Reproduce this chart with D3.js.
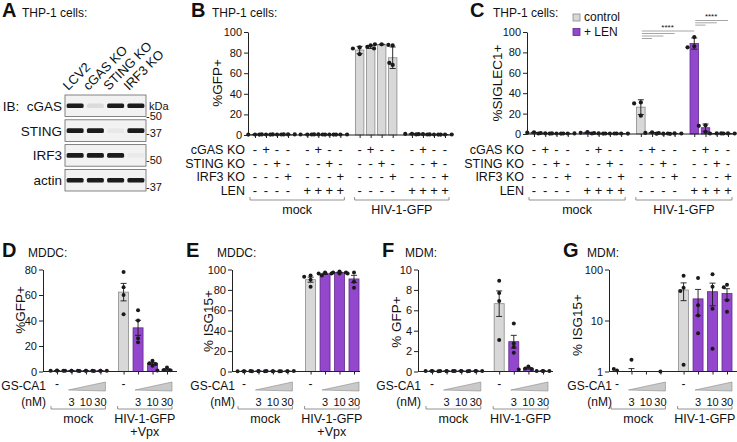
<!DOCTYPE html>
<html><head><meta charset="utf-8">
<script src="https://cdn.jsdelivr.net/npm/d3@7"></script>
<style>
body{margin:0;background:#fff}
svg{display:block}
text{font-family:"Liberation Sans",Arial,Helvetica,sans-serif;fill:#111}
</style>
</head><body>
<svg id="fig" width="737" height="442"></svg>
<script>
// ================= DATA =================
const blotLanes = ["LCV2", "cGAS KO", "STING KO", "IRF3 KO"];
const blotRows = ["IB:\u00A0\u00A0cGAS", "STING", "IRF3", "actin"];
const blotBandIntensity = [
  [1, 0.1, 1, 1],
  [1, 1, 0.04, 1],
  [1, 1, 1, 0.03],
  [1, 1, 1, 1]
];
const blotMarkers = ["-50", "-37", "-50", "-37"];

const thpGenotypes = ["LCV2", "cGAS KO", "STING KO", "IRF3 KO"];
const thpRowLabels = ["cGAS KO", "STING KO", "IRF3 KO", "LEN"];
const thpLen = [false, true, false, true];
const thpInfections = ["mock", "HIV-1-GFP"];
const legendLabels = ["control", "+ LEN"];
const ticks100 = [0, 20, 40, 60, 80, 100];

// %GFP+ (panel B), 3 replicates per bar
const gfpB = [
  [0.5, 0.4, 0.6], [0.5, 0.4, 0.6], [0.5, 0.4, 0.6], [0.6, 0.5, 0.6],
  [0.4, 0.5, 0.6], [0.6, 0.5, 0.4], [0.5, 0.5, 0.4], [0.5, 0.4, 0.5],
  [85, 84, 78.5], [87, 85.5, 84], [88, 88, 87.5], [87, 68, 70],
  [1.2, 1.0, 0.9], [0.8, 0.6, 0.6], [0.5, 0.5, 0.4], [0.5, 0.4, 0.5]
];
// %SIGLEC1+ (panel C)
const siglecC = [
  [1.6, 1.3, 1.0], [0.7, 0.5, 0.6], [0.5, 0.4, 0.5], [0.5, 0.4, 0.6],
  [1.8, 1.2, 1.0], [0.6, 0.5, 0.5], [0.5, 0.4, 0.5], [0.5, 0.5, 0.4],
  [31, 30, 18], [1.6, 1.1, 1.0], [0.3, 0.3, 0.2], [0.6, 0.5, 0.5],
  [95, 86, 85], [8.5, 8, 2], [0.6, 0.5, 0.5], [0.6, 0.6, 0.5]
];
const sigLeft = [[8, 12], [8, 11], [8, 10], [8, 9]];
const sigRight = [[12, 15], [12, 14], [12, 13]];
const sigLabel = "****";

const gscaLabel = ["GS-CA1", "(nM)"];
const gscaDoses = ["-", "3", "10", "30"];
const mddcInfections = ["mock", "HIV-1-GFP\n+Vpx"];
const mdmInfections = ["mock", "HIV-1-GFP"];

// D: MDDC %GFP+ (4 donors)
const gfpD = [
  [0.6, 0.5, 0.5, 0.7], [0.5, 0.6, 0.5, 0.6], [0.5, 0.4, 0.5, 0.6], [0.5, 0.4, 0.5, 0.5],
  [78, 66, 60, 45], [48, 40, 26, 23], [8.4, 6.5, 5.8, 4.6], [3.2, 1.2, 1.0, 0.8]
];
// E: MDDC %ISG15+
const isgE = [
  [0.3, 0.2, 0.4, 0.3], [0.3, 0.2, 0.3, 0.4], [0.3, 0.4, 0.2, 0.3], [0.3, 0.2, 0.4, 0.3],
  [94, 93, 90, 83], [97, 96, 96, 94], [98, 97, 97, 96], [97, 96, 88, 82]
];
// F: MDM %GFP+
const gfpF = [
  [0.05, 0.05, 0.03, 0.04], [0.05, 0.04, 0.05, 0.03], [0.04, 0.05, 0.03, 0.05], [0.05, 0.04, 0.04, 0.05],
  [8.9, 7.7, 6.9, 3.1], [4.7, 2.75, 2.4, 1.85], [0.5, 0.3, 0.25, 0.2], [0.06, 0.05, 0.04, 0.05]
];
// G: MDM %ISG15+ (log scale)
const isgG = [
  [1.05, 1.12, 0.6, 0.5], [1.7, 0.7, 0.6, 0.4], [0.5, 0.4, 0.3, 0.6], [1.0, 0.5, 0.4, 0.3],
  [75, 44, 38, 1.35], [68, 20, 12.6, 5.6], [81, 46, 17, 2.8], [50, 45, 25, 14.8]
];

// ================= DRAWING =================
const svg = d3.select("#fig");
const COL = {
  gray: "#d8d8d8", grayS: "#8a8a8a",
  purple: "#9347cc", purpleS: "#5f2b8c",
  ink: "#1a1a1a", sig: "#9c9c9c"
};
const defs = svg.append("defs");
defs.append("filter").attr("id", "blur").attr("x", "-20%").attr("y", "-50%").attr("width", "140%").attr("height", "200%")
  .append("feGaussianBlur").attr("stdDeviation", 0.6);

function txt(g, x, y, s, size, anchor, weight) {
  const t = g.append("text").attr("x", x).attr("y", y).text(s).style("font-size", size + "px");
  if (anchor) t.attr("text-anchor", anchor);
  if (weight) t.style("font-weight", weight);
  return t;
}
function head(letter, lx, title, tx, base) {
  txt(svg, lx, base, letter, 20, null, "bold");
  txt(svg, tx, base, title, 12);
}
function slotScale(n, gap, x0, x1) {
  const u = i => i + Math.floor(i / 4) * gap;
  const lin = d3.scaleLinear().domain([0, u(n - 1)]).range([x0, x1]);
  return d3.scaleOrdinal().domain(d3.range(n)).range(d3.range(n).map(i => lin(u(i))));
}
function dodge(py, r) {
  const placed = [];
  return py.map(v => {
    for (const k of [0, -1, 1, -2, 2, -3, 3]) {
      const dx = k * r * 1.6;
      if (placed.every(p => Math.hypot(p[0] - dx, p[1] - v) >= r * 1.7)) { placed.push([dx, v]); return dx; }
    }
    return 0;
  });
}
function drawBars(g, series, x, y, o) {
  const floor = o.floor, yBase = y(floor), r = o.r || 2;
  series.forEach((pts, i) => {
    const m = d3.mean(pts);
    if (m > floor) {
      const c = o.color(i);
      g.append("rect").attr("x", x(i) - o.barW / 2).attr("width", o.barW)
        .attr("y", y(m)).attr("height", yBase - y(m))
        .attr("fill", c[0]).attr("stroke", c[1]).attr("stroke-width", 0.8);
    }
  });
  series.forEach((pts, i) => {
    const m = d3.mean(pts);
    const sd = d3.deviation(pts) || 0;
    const e = o.err === "SEM" ? sd / Math.sqrt(pts.length) : sd;
    const hi = m + e, lo = Math.max(m - e, floor);
    if (hi <= floor) return;
    const cx = x(i);
    g.append("line").attr("x1", cx).attr("x2", cx).attr("y1", y(lo)).attr("y2", y(hi))
      .attr("stroke", COL.ink).attr("stroke-width", 0.9);
    g.append("line").attr("x1", cx - 3).attr("x2", cx + 3).attr("y1", y(hi)).attr("y2", y(hi))
      .attr("stroke", COL.ink).attr("stroke-width", 0.9);
    if (m - e > floor)
      g.append("line").attr("x1", cx - 3).attr("x2", cx + 3).attr("y1", y(m - e)).attr("y2", y(m - e))
        .attr("stroke", COL.ink).attr("stroke-width", 0.9);
  });
  series.forEach((pts, i) => {
    const vis = pts.filter(v => v >= floor);
    const py = vis.map(v => y(v));
    const off = dodge(py, r);
    py.forEach((v, k) => g.append("circle").attr("cx", x(i) + off[k]).attr("cy", v).attr("r", r).attr("fill", COL.ink));
  });
}
function yAxis(x0, y, ticks, size, fmt) {
  const ax = d3.axisLeft(y).tickValues(ticks).tickSize(4).tickPadding(2).tickSizeOuter(0);
  if (fmt) ax.tickFormat(fmt);
  const a = svg.append("g").attr("transform", `translate(${x0},0)`).call(ax);
  a.selectAll("text").style("font-size", size + "px");
  a.selectAll("line,path").attr("stroke", "#222");
}
function xAxis(x, y0, x0, x1) {
  const a = svg.append("g").attr("transform", `translate(0,${y0})`)
    .call(d3.axisBottom(x).tickSize(3).tickFormat("").tickSizeOuter(0));
  a.select(".domain").remove();
  a.selectAll("line").attr("stroke", "#222");
  svg.append("line").attr("x1", x0).attr("x2", x1).attr("y1", y0).attr("y2", y0).attr("stroke", "#222");
}
function yLabel(x, cy, s, size) {
  svg.append("text").attr("transform", `translate(${x},${cy}) rotate(-90)`)
    .attr("text-anchor", "middle").style("font-size", size + "px").text(s);
}
function bracket(xa, xb, yb, labelLines, base, size) {
  svg.append("path").attr("d", `M${xa},${yb - 3}V${yb}H${xb}V${yb - 3}`)
    .attr("fill", "none").attr("stroke", "#777").attr("stroke-width", 0.8);
  labelLines.forEach((l, k) => txt(svg, (xa + xb) / 2, base + k * 13, l, size, "middle"));
}

// ---------- Panel A : immunoblot ----------
head("A", 2, "THP-1 cells:", 22, 17);
const laneX = d3.scaleBand().domain(blotLanes).range([65, 146]).paddingInner(0.1).paddingOuter(0.05);
const rowY = d3.scaleBand().domain(blotRows).range([95, 191]).paddingInner(0.13);
const markerFrac = [1.18, 0.8, 0.9, 1.0];
blotRows.forEach((r, ri) => {
  const y0 = rowY(r), h = rowY.bandwidth();
  svg.append("rect").attr("x", 65).attr("y", y0).attr("width", 81).attr("height", h)
    .attr("fill", "#f2f2f2").attr("stroke", "#666").attr("stroke-width", 0.8);
  blotLanes.forEach((l, li) => {
    const cx = laneX(l) + laneX.bandwidth() / 2;
    svg.append("rect").attr("x", cx - 8.5).attr("y", y0 + h / 2 - 2.3).attr("width", 17).attr("height", 4.6)
      .attr("rx", 1.5).attr("fill", "#1c1c1c").attr("opacity", blotBandIntensity[ri][li])
      .attr("filter", "url(#blur)");
  });
  txt(svg, 62, y0 + h / 2 + 5, r, 13.5, "end");
  txt(svg, 146, y0 + h * markerFrac[ri], blotMarkers[ri], 11);
});
txt(svg, 149, 110, "kDa", 11);
blotLanes.forEach(l => {
  const cx = laneX(l) + laneX.bandwidth() / 2;
  svg.append("text").attr("transform", `translate(${cx - 7},91) rotate(-45)`).style("font-size", "13px").text(l);
});

// ---------- Panels B & C ----------
function thpPanel(cfg) {
  const x = slotScale(16, 0.75, cfg.xFirst, cfg.xLast);
  const y = d3.scaleLinear().domain([0, 100]).range([cfg.y0, 32]);
  const g = svg.append("g");
  drawBars(g, cfg.data, x, y, { floor: 0, barW: 8.5, err: "SD", color: cfg.color, r: 2.1 });
  yAxis(cfg.axisX, y, ticks100, 11);
  xAxis(x, cfg.y0, cfg.axisX, cfg.axisEnd);
  yLabel(cfg.labX, 83, cfg.ylab, 13.5);
  const rowBase = [154, 167.5, 181, 194.5];
  thpRowLabels.forEach((lab, r) => {
    txt(svg, cfg.rowX, rowBase[r], lab, 12.5, "end");
    d3.range(16).forEach(i => {
      const gi = Math.floor(i / 4), ge = i % 4;
      const on = r < 3 ? (ge === r + 1) : thpLen[gi];
      txt(svg, x(i), rowBase[r], on ? "+" : "-", 13, "middle");
    });
  });
  thpInfections.forEach((lab, k) => {
    bracket(x(k * 8) - 5, x(k * 8 + 7) + 4, 200, [lab], 214, 12.5);
  });
  return x;
}
head("B", 191, "THP-1 cells:", 212, 17);
thpPanel({ data: gfpB, xFirst: 255, xLast: 445, axisX: 248, axisEnd: 452, y0: 135, labX: 222,
  ylab: "%GFP+", rowX: 245, color: () => [COL.gray, COL.grayS] });

head("C", 470, "THP-1 cells:", 493, 17);
const xC = thpPanel({ data: siglecC, xFirst: 534, xLast: 728, axisX: 527, axisEnd: 735, y0: 134, labX: 502,
  ylab: "%SIGLEC1+", rowX: 524,
  color: i => thpLen[Math.floor(i / 4)] ? [COL.purple, COL.purpleS] : [COL.gray, COL.grayS] });
// significance lines
function sigLines(pairs, yTop, step) {
  pairs.forEach((p, k) => {
    const yy = yTop + k * step;
    svg.append("line").attr("x1", xC(p[0]) + 1).attr("x2", xC(p[1])).attr("y1", yy).attr("y2", yy)
      .attr("stroke", COL.sig).attr("stroke-width", 0.9);
  });
  txt(svg, (xC(pairs[0][0]) + xC(pairs[0][1])) / 2, yTop - 1.5, sigLabel, 8, "middle");
}
sigLines(sigLeft, 31, 2.5);
sigLines(sigRight, 20.5, 2.3);
// legend
[[COL.gray, COL.grayS], [COL.purple, COL.purpleS]].forEach((c, k) => {
  svg.append("rect").attr("x", 573).attr("y", 14 + k * 14.5).attr("width", 7).attr("height", 7)
    .attr("fill", c[0]).attr("stroke", c[1]).attr("stroke-width", 0.8);
  txt(svg, 584, 21 + k * 14.5, legendLabels[k], 12);
});

// ---------- Panels D-G ----------
function primaryPanel(cfg) {
  const x = slotScale(8, 0.6, cfg.xFirst, cfg.xLast);
  const y = cfg.log
    ? d3.scaleLog().domain(cfg.domain).range([371.5, 269.5])
    : d3.scaleLinear().domain(cfg.domain).range([371.5, 269.5]);
  const g = svg.append("g");
  drawBars(g, cfg.data, x, y, { floor: cfg.domain[0], barW: 10, err: "SEM", r: 2,
    color: i => (i % 4 === 0) ? [COL.gray, COL.grayS] : [COL.purple, COL.purpleS] });
  yAxis(cfg.axisX, y, cfg.ticks, 11, cfg.log ? d3.format("d") : null);
  xAxis(x, 371.5, cfg.axisX, cfg.axisEnd);
  yLabel(cfg.labX, cfg.labY, cfg.ylab, 13.5);
  txt(svg, cfg.axisX + 3, 390, gscaLabel[0], 12, "end");
  txt(svg, cfg.axisX + 3, 406, gscaLabel[1], 12, "end");
  [0, 1].forEach(gi => {
    gscaDoses.forEach((d, k) => {
      txt(svg, x(gi * 4 + k), k === 0 ? 388 : 406, d, k === 0 ? 12 : 11, "middle");
    });
    const xa = x(gi * 4 + 1) - 3, xb = x(gi * 4 + 3) + 5;
    svg.append("path").attr("d", `M${xa},${390}L${xb},${382}V${391}Z`)
      .attr("fill", "#c9c9c9").attr("stroke", "#8a8a8a").attr("stroke-width", 0.6);
    bracket(x(gi * 4) - 6, x(gi * 4 + 3) + 5, 409, cfg.infections[gi].split("\n"), 423, 12.5);
  });
}
head("D", 2, "MDDC:", 28, 257);
primaryPanel({ data: gfpD, domain: [0, 80], ticks: [0, 20, 40, 60, 80], xFirst: 57, xLast: 167,
  axisX: 43, axisEnd: 177, labX: 25, labY: 310, ylab: "%GFP+", infections: mddcInfections });
head("E", 186, "MDDC:", 217, 257);
primaryPanel({ data: isgE, domain: [0, 100], ticks: ticks100, xFirst: 244, xLast: 354,
  axisX: 232, axisEnd: 360, labX: 213, labY: 321, ylab: "% ISG15+", infections: mddcInfections });
head("F", 382, "MDM:", 405, 257);
primaryPanel({ data: gfpF, domain: [0, 10], ticks: [0, 2, 4, 6, 8, 10], xFirst: 432, xLast: 543,
  axisX: 418, axisEnd: 553, labX: 401, labY: 322, ylab: "% GFP+", infections: mdmInfections });
head("G", 563, "MDM:", 587, 257);
primaryPanel({ data: isgG, domain: [1, 100], ticks: [1, 10, 100], log: true, xFirst: 617, xLast: 727,
  axisX: 609, axisEnd: 737, labX: 582, labY: 325, ylab: "% ISG15+", infections: mdmInfections });
</script>
</body></html>
